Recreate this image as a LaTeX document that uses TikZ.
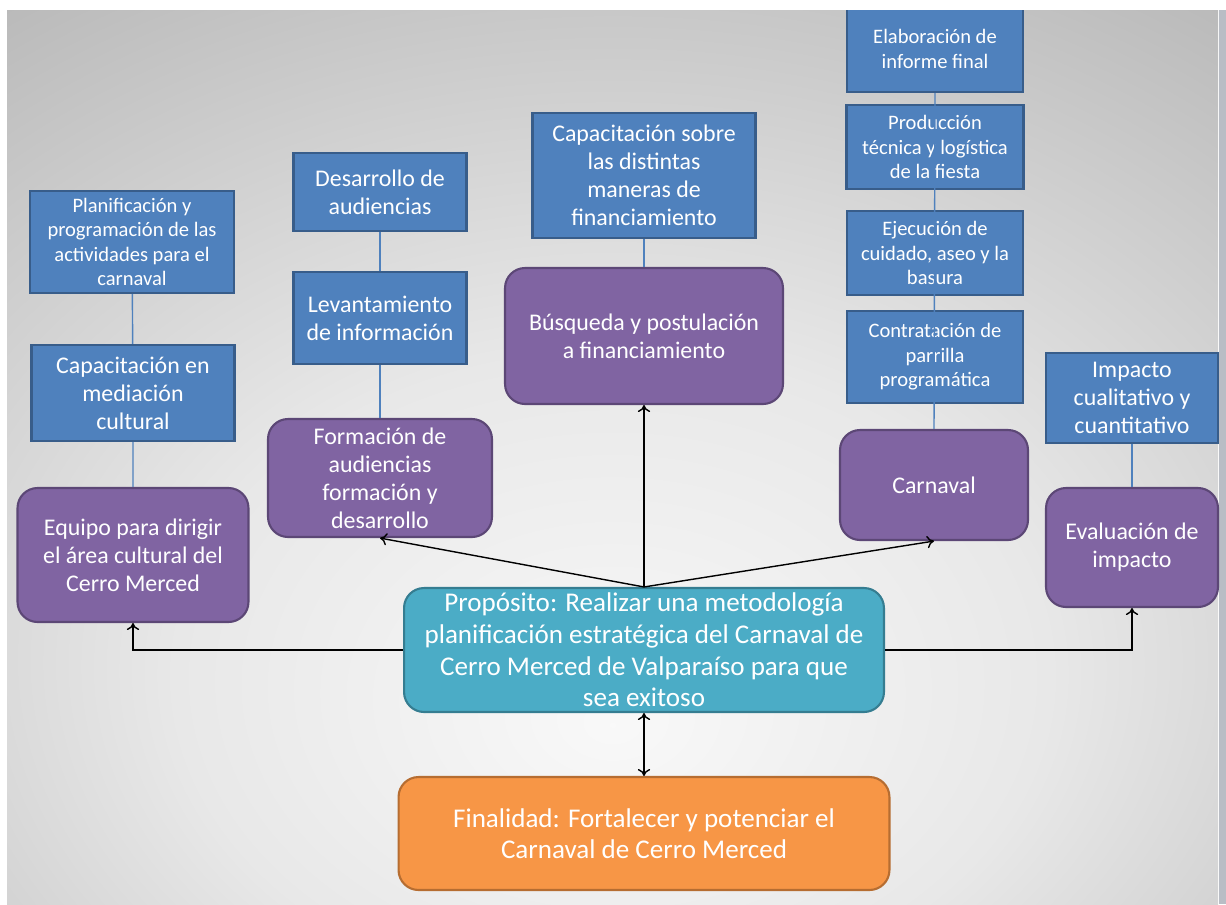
\documentclass[tikz,border=0pt]{standalone}
\usepackage{fontspec}
\setmainfont{Carlito}
\usetikzlibrary{arrows.meta}

\definecolor{blueFill}{HTML}{4F81BD}
\definecolor{blueLine}{HTML}{385D8A}
\definecolor{purpleFill}{HTML}{8064A2}
\definecolor{purpleLine}{HTML}{5C4776}
\definecolor{tealFill}{HTML}{4BACC6}
\definecolor{tealLine}{HTML}{357D91}
\definecolor{orangeFill}{HTML}{F79646}
\definecolor{orangeLine}{HTML}{B66D31}
\definecolor{edgeBand}{HTML}{B9BDC5}

\newcommand{\txtsmall}{\fontsize{11.7}{13.9}\selectfont}
\newcommand{\txtmid}{\fontsize{13.6}{16}\selectfont}
\newcommand{\txtbig}{\fontsize{15.4}{18}\selectfont}

\pgfdeclareradialshading{panelshade}{\pgfpoint{0bp}{-15bp}}{color(0bp)=(gray!5); color(18bp)=(gray!18); color(50bp)=(gray!66); color(80bp)=(gray!82); color(100bp)=(gray!82)}

\begin{document}
\begin{tikzpicture}[x=0.02cm, y=-0.02cm,
  box/.style={text=white, align=center, inner sep=2pt, line width=1.2pt, font=\txtmid},
  taskbox/.style={box, draw=blueLine, fill=blueFill},
  areabox/.style={box, draw=purpleLine, fill=purpleFill, rounded corners=0.4cm},
  aimbox/.style={box, draw=tealLine, fill=tealFill, rounded corners=0.4cm, font=\txtbig},
  endbox/.style={box, draw=orangeLine, fill=orangeFill, rounded corners=0.4cm, font=\txtbig},
  small/.style={font=\txtsmall},
  link/.style={draw=blueFill, line width=0.8pt},
  >={To[length=4pt,width=7pt]}]
\useasboundingbox (0,0) rectangle (1226,904);
\fill [white] (0,0) rectangle (1226,904);
\shade [shading=panelshade] (7,10) rectangle (1218,904);
\fill [edgeBand] (1219,10) rectangle (1226,904);

\node [taskbox, small, minimum width=4.08cm, minimum height=2.04cm] (plan) at (132, 242) {Planificación y\\ programación de las\\ actividades para el\\ carnaval};
\node [taskbox, minimum width=4.06cm, minimum height=1.92cm] (capmed) at (133, 393) {Capacitación en\\ mediación\\ cultural};
\node [areabox, minimum width=4.62cm, minimum height=2.68cm] (equipo) at (133, 555) {Equipo para dirigir\\ el área cultural del\\ Cerro Merced};

\node [taskbox, minimum width=3.46cm, minimum height=1.56cm] (desaud) at (380, 192) {Desarrollo de\\ audiencias};
\node [taskbox, minimum width=3.46cm, minimum height=1.84cm] (levinf) at (380, 318) {Levantamiento\\ de información};
\node [areabox, minimum width=4.48cm, minimum height=2.36cm] (formaud) at (380, 478) {Formación de\\ audiencias\\ formación y\\ desarrollo};

\node [taskbox, minimum width=4.46cm, minimum height=2.5cm] (capfin) at (644, 175.5) {Capacitación sobre\\ las distintas\\ maneras de\\ financiamiento};
\node [areabox, minimum width=5.56cm, minimum height=2.72cm] (busq) at (644, 336) {Búsqueda y postulación\\ a financiamiento};

\node [taskbox, small, minimum width=3.52cm, minimum height=1.72cm] (elab) at (935, 49) {Elaboración de\\ informe final};
\node [taskbox, small, minimum width=3.54cm, minimum height=1.68cm] (prod) at (935, 147) {Producción\\ técnica y logística\\ de la fiesta};
\node [taskbox, small, minimum width=3.52cm, minimum height=1.68cm] (ejec) at (935, 253) {Ejecución de\\ cuidado, aseo y la\\ basura};
\node [taskbox, small, minimum width=3.52cm, minimum height=1.84cm] (contr) at (935, 357) {Contratación de\\ parrilla\\ programática};
\node [areabox, minimum width=3.76cm, minimum height=2.2cm] (carnaval) at (934, 485) {Carnaval};

\node [taskbox, minimum width=3.44cm, minimum height=1.8cm] (impacto) at (1132, 398) {Impacto\\ cualitativo y\\ cuantitativo};
\node [areabox, minimum width=3.44cm, minimum height=2.38cm] (eval) at (1132, 547.5) {Evaluación de\\ impacto};

\node [aimbox, minimum width=9.6cm, minimum height=2.48cm] (prop) at (644, 650) {Propósito: Realizar una metodología\\ planificación estratégica del Carnaval de\\ Cerro Merced de Valparaíso para que\\ sea exitoso};
\node [endbox, minimum width=9.82cm, minimum height=2.26cm] (final) at (644, 833.5) {Finalidad: Fortalecer y potenciar el\\ Carnaval de Cerro Merced};

\draw [link] (plan) -- (capmed) -- (equipo);
\draw [link] (desaud) -- (levinf) -- (formaud);
\draw [link] (capfin) -- (busq);
\draw [link] (elab.south) -- (carnaval.north);
\draw [link] (impacto) -- (eval);

\draw [thick, ->] (prop.north) -- (busq.south);
\draw [thick, ->] (prop.north) -- (formaud.south);
\draw [thick, ->] (prop.north) -- (carnaval.south);
\draw [thick, ->] (prop.west) -| (equipo.south);
\draw [thick, ->] (prop.east) -| (eval.south);
\draw [thick, <->] (prop.south) -- (final.north);

\fill [white] (0,0) rectangle (1226,10);
\end{tikzpicture}
\end{document}
